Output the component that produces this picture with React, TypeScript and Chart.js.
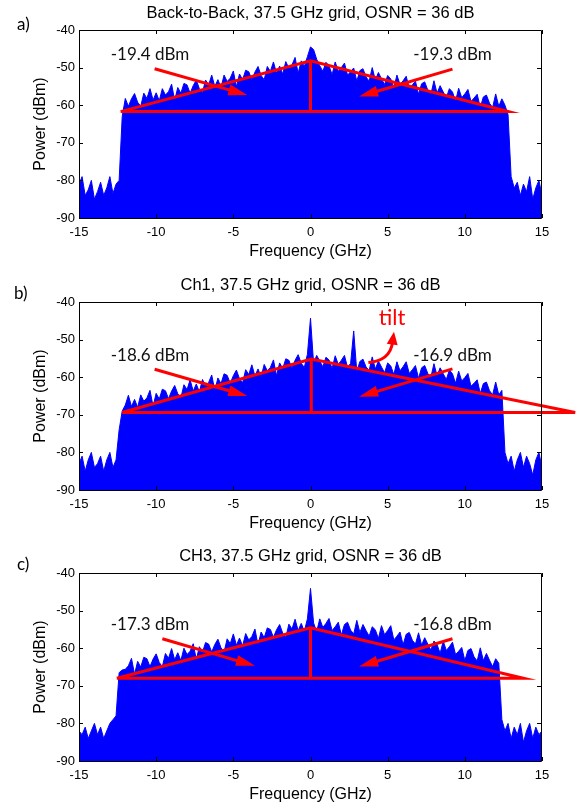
import React, { useEffect, useRef } from "react";
import { Chart, registerables } from "chart.js";

Chart.register(...registerables);

// ---------- sampling grid (GHz) ----------
const FREQ_START = -15;
const FREQ_STEP = 0.2;
const FREQ_POINTS = 151;
const freqGHz: number[] = Array.from({ length: FREQ_POINTS }, (_, i) =>
  Math.round((FREQ_START + i * FREQ_STEP) * 10) / 10
);

// ---------- tick labels ----------
const xTickValues = [-15, -10, -5, 0, 5, 10, 15];
const yTickValues = [-90, -80, -70, -60, -50, -40];

// ---------- panel texts ----------
const panelTitles = [
  "Back-to-Back, 37.5 GHz grid, OSNR = 36 dB",
  "Ch1, 37.5 GHz grid, OSNR = 36 dB",
  "CH3, 37.5 GHz grid, OSNR = 36 dB",
];
const panelLetters = ["a)", "b)", "c)"];
const leftPowerLabels = ["-19.4 dBm", "-18.6 dBm", "-17.3 dBm"];
const rightPowerLabels = ["-19.3 dBm", "-16.9 dBm", "-16.8 dBm"];
const tiltLabel = "tilt";

// ---------- spectra (dBm), one value per grid point ----------
const powerA = [
  -81, -79, -84, -82.5, -80, -85, -83, -80.5, -84, -82, -79, -83.5, -81, -80,
  -63,
  -58.2, -60.3, -58.3, -56.9, -59.2, -60.3, -56.8, -58.2, -55.6, -58.6,
  -56.7, -58.8, -55.6, -57.3, -56.4, -54.4, -58.7, -55.3, -56.8, -54.2,
  -54.6, -56.8, -54.8, -53.3, -55.6, -56.7, -53.3, -54.6, -52.0, -55.0,
  -53.2, -55.3, -52.0, -53.7, -52.8, -50.9, -55.1, -51.7, -53.2, -50.7,
  -51.1, -53.2, -51.2, -49.7, -52.1, -53.2, -49.7, -51.0, -48.5, -51.5,
  -49.6, -51.7, -48.4, -50.2, -49.3, -47.3, -51.5, -48.2, -49.7, -47.1,
  -44.5,
  -45.2, -47.8, -49.5, -51.0, -48.6, -49.5, -51.9, -48.5, -51.0, -50.0,
  -48.8, -52.0, -51.1, -50.1, -53.6, -50.8, -50.3, -52.5, -53.6, -50.0,
  -53.3, -51.3, -53.0, -54.5, -52.1, -53.0, -55.4, -52.0, -54.5, -53.5,
  -52.3, -55.5, -54.6, -53.6, -57.1, -54.3, -53.8, -56.0, -57.1, -53.5,
  -56.8, -54.8, -56.5, -58.0, -55.6, -56.5, -58.9, -55.5, -58.0, -57.0,
  -55.8, -59.0, -58.1, -57.1, -60.6, -57.8, -57.3, -59.5, -60.6, -57.0,
  -60.3, -58.3, -60.0, -62.5,
  -79, -82, -80.5, -84, -81, -83, -79, -85, -82, -80, -84,
];

const powerB = [
  -83, -81, -85, -82, -80, -84, -83, -81, -85, -82, -80, -84, -82, -74,
  -69.0,
  -67.4, -64.8, -67.8, -65.9, -68.0, -64.7, -66.4, -65.5, -63.5, -67.7,
  -64.3, -65.8, -63.2, -63.6, -65.7, -63.7, -62.2, -64.4, -65.5, -62.0,
  -63.3, -60.7, -63.7, -61.8, -63.9, -60.6, -62.3, -61.4, -59.4, -63.6,
  -60.2, -61.7, -59.1, -59.5, -61.6, -59.6, -58.1, -60.4, -61.5, -58.0,
  -59.3, -56.7, -59.7, -57.8, -59.9, -56.6, -58.3, -57.4, -55.4, -59.6,
  -56.2, -57.7, -55.1, -55.5, -57.6, -55.5, -54.0, -56.3, -57.4, -53.9,
  -44.3,
  -56.3, -54.2, -55.7, -57.2, -54.7, -55.4, -57.7, -54.3, -56.6, -55.5,
  -54.2, -57.4, -56.3, -47.7, -58.6, -55.8, -55.2, -57.3, -58.2, -54.6,
  -57.8, -55.7, -57.3, -58.8, -56.2, -57.0, -59.3, -55.9, -58.3, -57.2,
  -55.9, -59.0, -58.0, -56.9, -60.3, -57.5, -56.9, -59.0, -60.0, -56.4,
  -59.6, -57.5, -59.1, -60.6, -58.1, -59.1, -61.6, -58.4, -61.0, -60.1,
  -59.0, -62.4, -61.6, -60.7, -64.3, -61.7, -61.3, -63.6, -64.7, -61.3,
  -64.7, -63.5,
  -80, -83, -81, -85, -82, -80, -84, -81, -83, -86, -82, -80, -84,
];

const powerC = [
  -82, -83, -81, -84, -82, -80, -83, -81, -84, -82, -80, -79, -78, -66.5,
  -65.8,
  -65.6, -64.7, -62.7, -66.9, -63.5, -65.0, -62.4, -62.8, -64.9, -62.9,
  -61.5, -63.8, -64.9, -61.4, -62.7, -60.1, -63.1, -61.2, -63.3, -60.0,
  -61.7, -60.8, -58.8, -63.0, -59.6, -61.1, -58.5, -58.9, -61.0, -59.0,
  -57.6, -59.9, -61.0, -57.5, -58.8, -56.2, -59.2, -57.3, -59.4, -56.1,
  -57.8, -56.9, -54.9, -59.1, -55.7, -57.2, -54.6, -55.0, -57.1, -55.1,
  -53.7, -56.0, -57.1, -53.6, -54.9, -52.3, -55.3, -53.4, -55.5, -52.2,
  -44.1,
  -53.3, -55.6, -52.2, -54.5, -53.4, -52.1, -55.3, -54.3, -53.1, -56.5,
  -53.7, -53.1, -55.2, -56.2, -52.6, -55.8, -53.7, -55.3, -56.8, -54.3,
  -55.1, -57.4, -54.0, -56.4, -55.3, -54.0, -57.8, -56.8, -55.7, -59.1,
  -56.3, -55.8, -57.9, -58.9, -55.9, -59.2, -57.2, -58.9, -60.5, -58.1,
  -59.0, -61.4, -58.1, -60.6, -59.6, -58.4, -61.7, -60.8, -59.8, -63.3,
  -60.6, -60.1, -62.3, -63.4, -59.9, -63.3, -61.4, -63.2, -64.9, -62.8,
  -64.0,
  -79, -82, -80, -84, -81, -83, -80, -85, -82, -80, -84, -81, -83, -82,
];

// ---------- annotation geometry (data units: GHz, dBm) ----------
// triangle: [left vertex, peak, right vertex]
const triangleA = [[-12.3, -61.7], [0, -48.2], [12.8, -61.7]];
const triangleB = [[-12.2, -69.4], [0.05, -55.2], [17.15, -69.4]];
const triangleC = [[-12.55, -68.0], [0, -54.6], [13.8, -68.0]];

// arrows: [start, tip]
const leftArrowA = [[-10.1, -50.3], [-4.1, -57.3]];
const rightArrowA = [[9.2, -50.4], [3.15, -57.7]];
const leftArrowB = [[-10.1, -57.9], [-4.1, -65.0]];
const rightArrowB = [[9.2, -57.8], [3.15, -65.2]];
const leftArrowC = [[-9.6, -57.5], [-3.6, -64.7]];
const rightArrowC = [[9.2, -57.5], [3.15, -64.9]];

// label anchor points (centre of text)
const leftLabelPos = [[-10.4, -46.5], [-10.4, -54.1], [-10.4, -53.8]];
const rightLabelPos = [[9.2, -46.5], [9.2, -54.1], [9.2, -53.8]];

// curved "tilt" arrow in panel b: [start, control, tip], label position
const tiltArrow = [[3.75, -56.1], [5.15, -55.6], [5.41, -47.9]];
const tiltLabelPos = [5.28, -44.3];

// ---------- styling ----------
const BLUE = "#0000ff";
const RED = "#ff0000";
const AXIS_FONT = "'Liberation Sans', Arial, Helvetica, sans-serif";
const NOTE_FONT = "Lato, 'Open Sans', sans-serif";

type Pt = number[];

interface PanelCfg {
  power: number[];
  triangle: Pt[];
  leftArrow: Pt[];
  rightArrow: Pt[];
  idx: number;
  tilt: boolean;
  letterDy: number;
  letterX: number;
}

const panels: PanelCfg[] = [
  { power: powerA, triangle: triangleA, leftArrow: leftArrowA, rightArrow: rightArrowA, idx: 0, tilt: false, letterDy: -5, letterX: 17 },
  { power: powerB, triangle: triangleB, leftArrow: leftArrowB, rightArrow: rightArrowB, idx: 1, tilt: true, letterDy: -8, letterX: 14 },
  { power: powerC, triangle: triangleC, leftArrow: leftArrowC, rightArrow: rightArrowC, idx: 2, tilt: false, letterDy: -8, letterX: 17 },
];

const CANVAS_W = 584;
const CANVAS_H = 262;
const panelTops = [0, 272, 543];

function arrowHead(ctx: CanvasRenderingContext2D, tipX: number, tipY: number, ang: number, len: number, w: number) {
  const bx = tipX - len * Math.cos(ang);
  const by = tipY - len * Math.sin(ang);
  ctx.beginPath();
  ctx.moveTo(tipX, tipY);
  ctx.lineTo(bx + (w / 2) * Math.sin(ang), by - (w / 2) * Math.cos(ang));
  ctx.lineTo(bx - (w / 2) * Math.sin(ang), by + (w / 2) * Math.cos(ang));
  ctx.closePath();
  ctx.fill();
}

function makePlugin(cfg: PanelCfg) {
  return {
    id: "panelDecor" + cfg.idx,
    afterDatasetsDraw(chart: any) {
      const { ctx, chartArea } = chart;
      const xs = chart.scales.x;
      const ys = chart.scales.y;
      const px = (v: number) => xs.getPixelForValue(v);
      const py = (v: number) => ys.getPixelForValue(v);
      const { left, right, top, bottom } = chartArea;

      ctx.save();
      // frame
      ctx.strokeStyle = "#000";
      ctx.lineWidth = 1;
      ctx.beginPath();
      ctx.rect(Math.round(left) + 0.5, Math.round(top) + 0.5, Math.round(right - left) - 1, Math.round(bottom - top));
      ctx.stroke();
      // inward ticks
      const tl = 4;
      ctx.beginPath();
      xTickValues.forEach((v) => {
        const x = Math.round(px(v)) + 0.5;
        ctx.moveTo(x, top);
        ctx.lineTo(x, top + tl);
        ctx.moveTo(x, bottom);
        ctx.lineTo(x, bottom - tl);
      });
      yTickValues.forEach((v) => {
        const y = Math.round(py(v)) + 0.5;
        ctx.moveTo(left, y);
        ctx.lineTo(left + tl, y);
        ctx.moveTo(right - 1, y);
        ctx.lineTo(right - 1 - tl, y);
      });
      ctx.stroke();

      // title + panel letter
      ctx.fillStyle = "#000";
      ctx.textBaseline = "middle";
      ctx.textAlign = "center";
      ctx.font = `16.5px ${AXIS_FONT}`;
      ctx.fillText(panelTitles[cfg.idx], (left + right) / 2, top - 16.5);
      ctx.textAlign = "left";
      ctx.font = `17px ${NOTE_FONT}`;
      ctx.fillText(panelLetters[cfg.idx], cfg.letterX, top + cfg.letterDy);

      // straight arrows
      ctx.strokeStyle = RED;
      ctx.fillStyle = RED;
      ctx.lineWidth = 3;
      ctx.lineCap = "butt";
      [cfg.leftArrow, cfg.rightArrow].forEach((a) => {
        const x1 = px(a[0][0]), y1 = py(a[0][1]);
        const x2 = px(a[1][0]), y2 = py(a[1][1]);
        const ang = Math.atan2(y2 - y1, x2 - x1);
        const hl = 19;
        ctx.beginPath();
        ctx.moveTo(x1, y1);
        ctx.lineTo(x2 - (hl - 2) * Math.cos(ang), y2 - (hl - 2) * Math.sin(ang));
        ctx.stroke();
        arrowHead(ctx, x2, y2, ang, hl, 11);
      });

      // curved tilt arrow
      if (cfg.tilt) {
        const s = tiltArrow[0], c = tiltArrow[1], t = tiltArrow[2];
        const sx = px(s[0]), sy = py(s[1]);
        const cx = px(c[0]), cy = py(c[1]);
        const tx = px(t[0]), ty = py(t[1]);
        const ang = Math.atan2(ty - cy, tx - cx);
        const hl = 13;
        ctx.beginPath();
        ctx.moveTo(sx, sy);
        ctx.quadraticCurveTo(cx, cy, tx - (hl - 2) * Math.cos(ang), ty - (hl - 2) * Math.sin(ang));
        ctx.stroke();
        arrowHead(ctx, tx, ty, ang, hl, 11);
        ctx.font = `22px ${NOTE_FONT}`;
        ctx.textAlign = "center";
        ctx.textBaseline = "middle";
        ctx.fillText(tiltLabel, px(tiltLabelPos[0]), py(tiltLabelPos[1]));
      }

      // power labels
      ctx.fillStyle = "#111";
      ctx.font = `17px ${NOTE_FONT}`;
      ctx.textAlign = "center";
      ctx.textBaseline = "middle";
      const lp = leftLabelPos[cfg.idx];
      const rp = rightLabelPos[cfg.idx];
      ctx.fillText(leftPowerLabels[cfg.idx], px(lp[0]), py(lp[1]));
      ctx.fillText(rightPowerLabels[cfg.idx], px(rp[0]), py(rp[1]));
      ctx.restore();
    },
  };
}

function Panel({ cfg, top }: { cfg: PanelCfg; top: number }) {
  const ref = useRef<HTMLCanvasElement | null>(null);
  useEffect(() => {
    if (!ref.current) return;
    const tri = cfg.triangle;
    const chart = new Chart(ref.current, {
      type: "line",
      data: {
        datasets: [
          {
            data: freqGHz.map((f, i) => ({ x: f, y: cfg.power[i] })),
            borderColor: BLUE,
            backgroundColor: BLUE,
            borderWidth: 1,
            fill: "start",
            pointRadius: 0,
            tension: 0,
            order: 2,
          },
          {
            data: [
              { x: tri[0][0], y: tri[0][1] },
              { x: tri[1][0], y: tri[1][1] },
              { x: tri[2][0], y: tri[2][1] },
              { x: tri[0][0], y: tri[0][1] },
            ],
            borderColor: RED,
            borderWidth: 3,
            fill: false,
            pointRadius: 0,
            tension: 0,
            clip: false,
            order: 1,
          },
          {
            data: [
              { x: tri[1][0], y: tri[1][1] },
              { x: tri[1][0], y: tri[0][1] },
            ],
            borderColor: RED,
            borderWidth: 3,
            fill: false,
            pointRadius: 0,
            tension: 0,
            clip: false,
            order: 1,
          },
        ],
      },
      options: {
        animation: false,
        responsive: false,
        devicePixelRatio: 1,
        layout: { padding: { top: 30, right: 42, left: 0, bottom: 0 } },
        plugins: {
          legend: { display: false },
          tooltip: { enabled: false },
          title: { display: false },
        },
        scales: {
          x: {
            type: "linear",
            min: -15,
            max: 15,
            afterBuildTicks: (s: any) => {
              s.ticks = xTickValues.map((v) => ({ value: v }));
            },
            ticks: {
              padding: 7,
              color: "#000",
              maxRotation: 0,
              autoSkip: false,
              font: { family: AXIS_FONT, size: 13 },
            },
            grid: { display: false, drawTicks: false },
            border: { display: false },
            title: {
              display: true,
              text: "Frequency (GHz)",
              color: "#000",
              font: { family: AXIS_FONT, size: 16 },
              padding: { top: 0, bottom: 1 },
            },
            afterFit: (s: any) => {
              s.height = 44;
            },
          },
          y: {
            type: "linear",
            min: -90,
            max: -40,
            afterBuildTicks: (s: any) => {
              s.ticks = yTickValues.map((v) => ({ value: v }));
            },
            ticks: {
              padding: 4,
              color: "#000",
              font: { family: AXIS_FONT, size: 13 },
            },
            grid: { display: false, drawTicks: false },
            border: { display: false },
            title: {
              display: true,
              text: "Power (dBm)",
              color: "#000",
              font: { family: AXIS_FONT, size: 16 },
              padding: { top: 31, bottom: 0 },
            },
            afterFit: (s: any) => {
              s.width = 79;
            },
          },
        },
      } as any,
      plugins: [makePlugin(cfg)],
    });
    return () => chart.destroy();
  }, [cfg]);
  return (
    <canvas
      ref={ref}
      width={CANVAS_W}
      height={CANVAS_H}
      style={{ position: "absolute", left: 0, top, width: CANVAS_W, height: CANVAS_H }}
    />
  );
}

export default function App() {
  return (
    <div
      style={{
        position: "absolute",
        left: 0,
        top: 0,
        width: 584,
        height: 806,
        overflow: "hidden",
        background: "#fff",
      }}
    >
      {panels.map((p, i) => (
        <Panel key={i} cfg={p} top={panelTops[i]} />
      ))}
    </div>
  );
}
